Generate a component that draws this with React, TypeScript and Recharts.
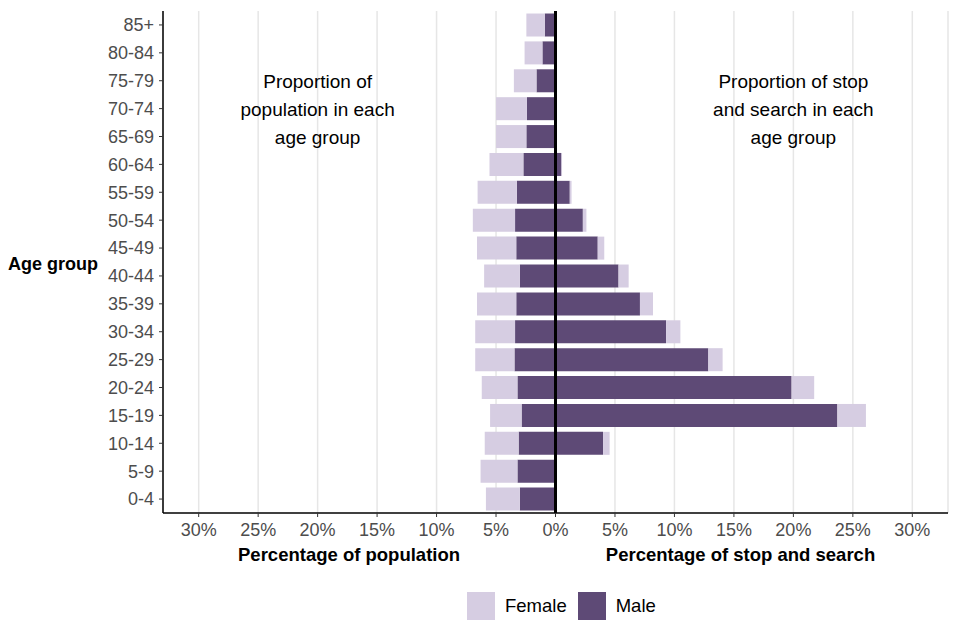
import React from "react";
import {
  BarChart, Bar, XAxis, YAxis, CartesianGrid, ReferenceLine, ReferenceDot, Legend,
} from "recharts";

const ageGroups = [
  "0-4", "5-9", "10-14", "15-19", "20-24", "25-29", "30-34", "35-39", "40-44",
  "45-49", "50-54", "55-59", "60-64", "65-69", "70-74", "75-79", "80-84", "85+",
];
// % of population
const popMale = [3.0, 3.2, 3.1, 2.85, 3.2, 3.45, 3.4, 3.3, 3.0, 3.3, 3.4, 3.25, 2.7, 2.45, 2.4, 1.6, 1.1, 0.9];
const popFemale = [2.85, 3.1, 2.85, 2.65, 3.0, 3.3, 3.35, 3.3, 3.0, 3.3, 3.55, 3.3, 2.85, 2.55, 2.6, 1.9, 1.5, 1.55];
// % of stop and search
const ssMale = [0, 0, 4.0, 23.7, 19.85, 12.85, 9.3, 7.1, 5.3, 3.55, 2.3, 1.2, 0.5, 0, 0, 0, 0, 0];
const ssFemale = [0, 0, 0.55, 2.4, 1.9, 1.2, 1.2, 1.1, 0.85, 0.55, 0.3, 0.15, 0.05, 0, 0, 0, 0, 0];
const xTicks = [-30, -25, -20, -15, -10, -5, 0, 5, 10, 15, 20, 25, 30];

const FEMALE = "#d6cde2";
const MALE = "#5e4a76";

const data = ageGroups.map((age, i) => ({
  age,
  popMale: -popMale[i],
  popFemale: -popFemale[i],
  ssMale: ssMale[i],
  ssFemale: ssFemale[i],
}));

const note = (lines: string[]) => (props: any) => {
  const vb = props.viewBox;
  const cx = vb.x + vb.width / 2;
  const cy = vb.y + vb.height / 2;
  return (
    <g>
      {lines.map((l, i) => (
        <text key={i} x={cx} y={cy + (i - 1) * 28 + 1} textAnchor="middle" dominantBaseline="central" fontSize={19} fill="#000">
          {l}
        </text>
      ))}
    </g>
  );
};

const xTitles = (props: any) => {
  const vb = props.viewBox;
  const y = vb.y + 41;
  return (
    <g fontWeight="bold" fontSize={18.5} fill="#000">
      <text x={vb.x + vb.width * 0.237} y={y} textAnchor="middle" dominantBaseline="central">Percentage of population</text>
      <text x={vb.x + vb.width * 0.7357} y={y} textAnchor="middle" dominantBaseline="central">Percentage of stop and search</text>
    </g>
  );
};

const yTitle = (props: any) => {
  const vb = props.viewBox;
  return (
    <text x={8} y={vb.y + vb.height / 2 + 2} dominantBaseline="central" fontWeight="bold" fontSize={18} fill="#000">
      Age group
    </text>
  );
};

const legendContent = () => (
  <div style={{ display: "flex", alignItems: "center", paddingLeft: 467, fontSize: 18.5 }}>
    <span style={{ width: 28, height: 28, background: FEMALE, display: "inline-block" }} />
    <span style={{ marginLeft: 10, marginRight: 11 }}>Female</span>
    <span style={{ width: 28, height: 28, background: MALE, display: "inline-block" }} />
    <span style={{ marginLeft: 10 }}>Male</span>
  </div>
);

export default function App() {
  return (
    <div style={{ position: "absolute", left: 0, top: 0, width: 960, height: 640, fontFamily: "'Liberation Sans', Arial, sans-serif", background: "#fff" }}>
      <BarChart
        width={960}
        height={640}
        data={data}
        layout="vertical"
        stackOffset="sign"
        barCategoryGap="9%"
        margin={{ top: 11, right: 12, left: 0, bottom: 0 }}
      >
        <CartesianGrid horizontal={false} stroke="#e6e6e6" strokeWidth={1.5} />
        <XAxis
          type="number"
          domain={[-33, 33]}
          ticks={xTicks}
          tickFormatter={(v: number) => `${Math.abs(v)}%`}
          height={79}
          tick={{ fontSize: 18, fill: "#4d4d4d" }}
          tickSize={4}
          tickMargin={6}
          axisLine={{ stroke: "#000", strokeWidth: 1.5 }}
          tickLine={{ stroke: "#333" }}
          label={{ content: xTitles }}
        />
        <YAxis
          type="category"
          dataKey="age"
          reversed
          width={163}
          tick={{ fontSize: 18, fill: "#4d4d4d" }}
          tickSize={4}
          tickMargin={5}
          axisLine={{ stroke: "#000", strokeWidth: 1.5 }}
          tickLine={{ stroke: "#333" }}
          interval={0}
          label={{ content: yTitle }}
        />
        <Bar dataKey="popMale" stackId="a" fill={MALE} isAnimationActive={false} />
        <Bar dataKey="popFemale" stackId="a" fill={FEMALE} isAnimationActive={false} />
        <Bar dataKey="ssMale" stackId="a" fill={MALE} isAnimationActive={false} />
        <Bar dataKey="ssFemale" stackId="a" fill={FEMALE} isAnimationActive={false} />
        <ReferenceLine x={0} stroke="#000" strokeWidth={3} />
        <ReferenceDot x={-20} y="70-74" r={0} fill="none" stroke="none"
          label={{ content: note(["Proportion of", "population in each", "age group"]) }} />
        <ReferenceDot x={20} y="70-74" r={0} fill="none" stroke="none"
          label={{ content: note(["Proportion of stop", "and search in each", "age group"]) }} />
        <Legend verticalAlign="bottom" height={48} content={legendContent} wrapperStyle={{ left: 0, width: 960 }} />
      </BarChart>
    </div>
  );
}
